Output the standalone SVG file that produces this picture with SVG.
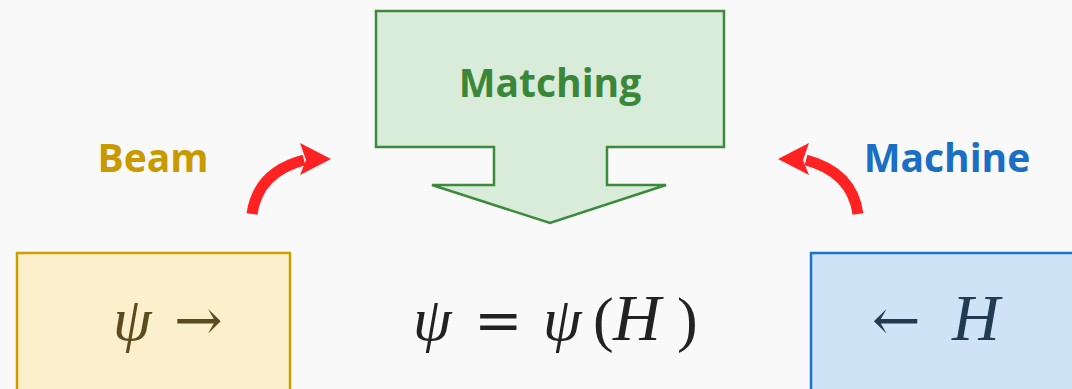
<svg xmlns="http://www.w3.org/2000/svg" width="1072" height="389" viewBox="0 0 1072 389">
<style>
.lbl{font-family:"Open Sans","Liberation Sans",sans-serif;font-weight:bold;font-size:39px}
.math{font-family:"Liberation Serif","DejaVu Serif",serif;font-size:62px}
.it{font-style:italic}
.sym{font-family:"DejaVu Serif","Liberation Serif",serif;font-size:58px}
</style>
<rect width="1072" height="389" fill="#f9f9f9"/>
<g id="matching">
<path d="M376,11 H724 V147 H607 V185 H666 L550,223 L432,185 H494 V147 H376 Z" fill="#d9ebd9" stroke="#3c8a3c" stroke-width="2.5" stroke-linejoin="miter"/>
<text class="lbl" x="550" y="97" text-anchor="middle" fill="#3a873a">Matching</text>
</g>
<g id="beam-label"><text class="lbl" x="153" y="172" text-anchor="middle" fill="#c99a00">Beam</text></g>
<g id="machine-label"><text class="lbl" x="947" y="172" text-anchor="middle" fill="#1a6fc4">Machine</text></g>
<g id="beam">
<rect x="17" y="253" width="273" height="150" fill="#fcefcb" stroke="#c9a000" stroke-width="2.5"/>
<text class="math" y="340" fill="#5a4c1e"><tspan class="it" x="113">ψ</tspan><tspan class="sym" x="174">→</tspan></text>
</g>
<g id="machine">
<rect x="811" y="253" width="280" height="150" fill="#cfe3f7" stroke="#1b74c9" stroke-width="2.5"/>
<text class="math" y="340" fill="#233a53"><tspan class="sym" x="872">←</tspan><tspan class="it" x="952" font-size="66">H</tspan></text>
</g>
<g id="relation">
<text class="math" y="340" fill="#222"><tspan class="it" x="413">ψ</tspan><tspan class="sym" x="474">=</tspan><tspan class="it" x="543">ψ</tspan><tspan x="593">(</tspan><tspan class="it" x="613" font-size="66">H</tspan><tspan x="677">)</tspan></text>
</g>
<g id="connectors" fill="#ff2222">
<path d="M252,214 Q258,172 304,160" fill="none" stroke="#ff2222" stroke-width="11"/>
<polygon points="300,143 331,159 300,175 306,160"/>
<path d="M858,214 Q852,172 806,160" fill="none" stroke="#ff2222" stroke-width="11"/>
<polygon points="809,143 778,159 809,175 803,160"/>
</g>
</svg>
